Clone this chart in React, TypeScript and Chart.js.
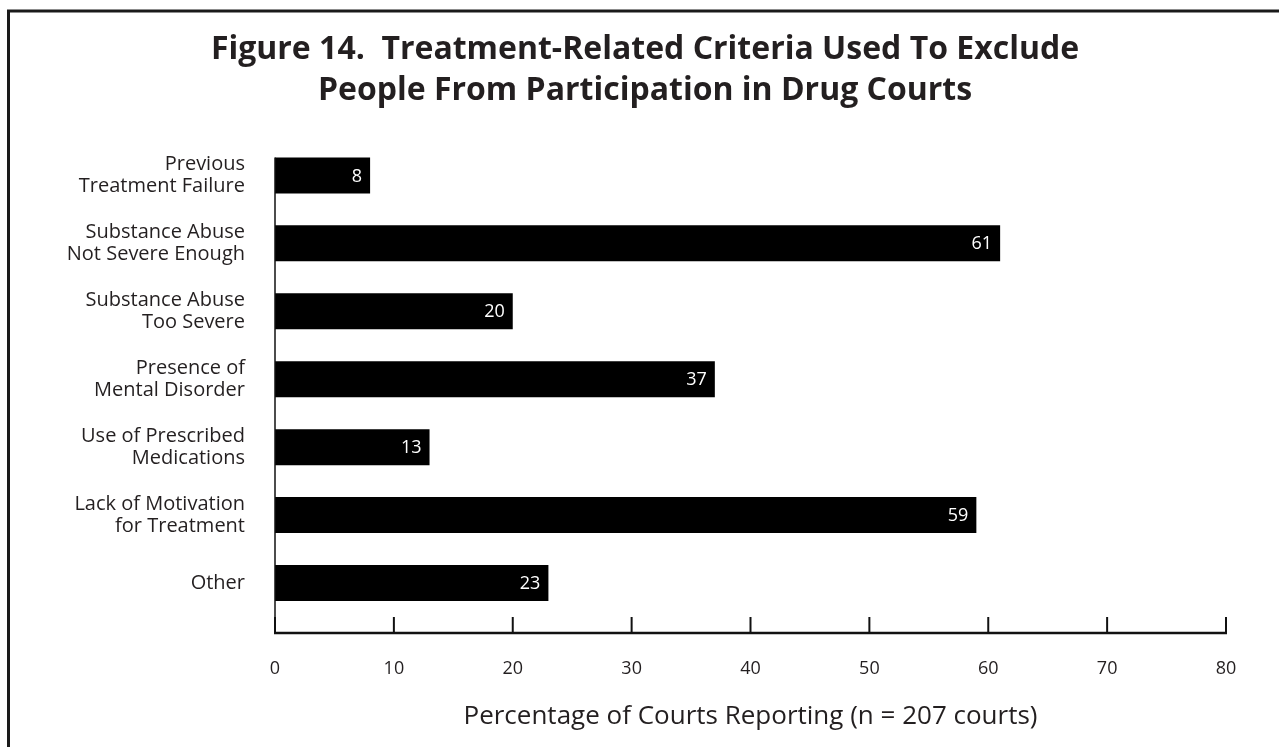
import React, { useEffect, useRef } from "react";
import { Chart, registerables } from "chart.js";

Chart.register(...registerables);

const titleLines = [
  "Figure 14.  Treatment-Related Criteria Used To Exclude",
  "People From Participation in Drug Courts",
];
const categories: string[][] = [
  ["Previous", "Treatment Failure"],
  ["Substance Abuse", "Not Severe Enough"],
  ["Substance Abuse", "Too Severe"],
  ["Presence of", "Mental Disorder"],
  ["Use of Prescribed", "Medications"],
  ["Lack of Motivation", "for Treatment"],
  ["Other"],
];
const values = [8, 61, 20, 37, 13, 59, 23];
const xMin = 0;
const xMax = 80;
const xStep = 10;
const xTitle = "Percentage of Courts Reporting (n = 207 courts)";

const FONT = "'Open Sans', Lato, sans-serif";
const INK = "#231f20";

const decorPlugin = {
  id: "decor",
  afterDraw(chart: any) {
    const ctx = chart.ctx as CanvasRenderingContext2D;
    const area = chart.chartArea;
    const xs = chart.scales.x;
    ctx.save();
    // frame (top + left)
    ctx.strokeStyle = "#1a1a1a";
    ctx.lineWidth = 3;
    ctx.beginPath();
    ctx.moveTo(8.5, chart.height + 2);
    ctx.lineTo(8.5, 11);
    ctx.lineTo(chart.width + 2, 11);
    ctx.stroke();

    const axisY = area.bottom + 16;
    const x0 = xs.getPixelForValue(xMin);
    const x1 = xs.getPixelForValue(xMax);
    ctx.strokeStyle = "#111";
    // x axis line
    ctx.lineWidth = 2.5;
    ctx.beginPath();
    ctx.moveTo(x0 - 1, axisY);
    ctx.lineTo(x1 + 1, axisY);
    ctx.stroke();
    // ticks (inside)
    ctx.lineWidth = 2;
    xs.ticks.forEach((t: any) => {
      const px = xs.getPixelForValue(t.value);
      ctx.beginPath();
      ctx.moveTo(px, axisY);
      ctx.lineTo(px, area.bottom);
      ctx.stroke();
    });
    // y axis line from first bar top
    const meta = chart.getDatasetMeta(0);
    const first = meta.data[0].getProps(["y", "height"], true);
    ctx.lineWidth = 1.5;
    ctx.beginPath();
    ctx.moveTo(x0, first.y - first.height / 2);
    ctx.lineTo(x0, axisY);
    ctx.stroke();

    // value labels
    ctx.fillStyle = "#ffffff";
    ctx.font = `18px ${FONT}`;
    ctx.textAlign = "right";
    ctx.textBaseline = "middle";
    meta.data.forEach((el: any, i: number) => {
      const p = el.getProps(["x", "y"], true);
      ctx.fillText(String(values[i]), p.x - 8, p.y + 1);
    });
    ctx.restore();
  },
};

export default function App() {
  const ref = useRef<HTMLCanvasElement | null>(null);
  useEffect(() => {
    if (!ref.current) return;
    const chart = new Chart(ref.current, {
      type: "bar",
      data: {
        labels: categories,
        datasets: [
          {
            data: values,
            backgroundColor: "#000000",
            borderWidth: 0,
            barPercentage: 0.53,
            categoryPercentage: 1,
          },
        ],
      },
      options: {
        indexAxis: "y",
        animation: false,
        responsive: false,
        layout: { padding: { top: 10, right: 53, left: 64, bottom: 0 } },
        plugins: {
          legend: { display: false },
          tooltip: { enabled: false },
          title: {
            display: true,
            text: titleLines,
            color: INK,
            font: { family: FONT, size: 32, weight: "bold", lineHeight: 1.28 },
            padding: { top: 19.5, bottom: 30 },
          },
        },
        scales: {
          x: {
            type: "linear",
            min: xMin,
            max: xMax,
            grid: { display: false, drawTicks: false },
            border: { display: false },
            ticks: {
              stepSize: xStep,
              padding: 41,
              color: INK,
              font: { family: FONT, size: 18 },
            },
            title: {
              display: true,
              text: xTitle,
              color: INK,
              font: { family: FONT, size: 26 },
              padding: { top: 0, bottom: 15 },
            },
            afterFit: (s: any) => {
              s.height = 130;
            },
          },
          y: {
            type: "category",
            grid: { display: false, drawTicks: false },
            border: { display: false },
            ticks: {
              padding: 30,
              color: INK,
              font: { family: FONT, size: 20, lineHeight: 1.1 },
            },
            afterFit: (s: any) => {
              s.width = 211;
            },
          },
        },
      },
      plugins: [decorPlugin],
    } as any);
    return () => chart.destroy();
  }, []);
  return (
    <div style={{ position: "fixed", left: 0, top: 0, width: 1279, height: 747, background: "#fff" }}>
      <canvas ref={ref} width={1279} height={747} style={{ display: "block" }} />
    </div>
  );
}
